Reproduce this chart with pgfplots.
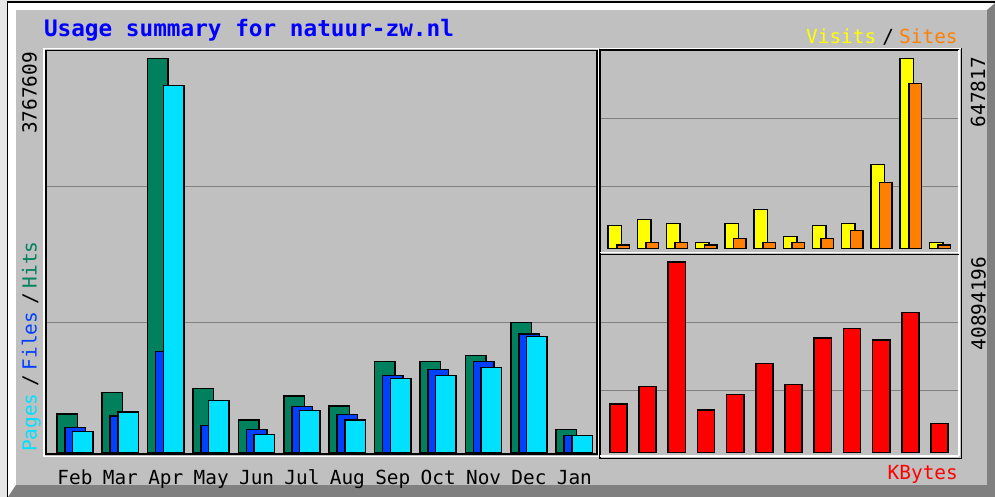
\documentclass[border=0pt]{standalone}
\usepackage{pgfplots}
\pgfplotsset{compat=1.18}
\usepackage{fontspec}
\setmonofont{DejaVu Sans Mono}
\definecolor{bggray}{HTML}{C0C0C0}
\definecolor{outerc}{HTML}{E6E6E6}
\definecolor{gridgray}{HTML}{808080}
\definecolor{hitc}{HTML}{00805C}
\definecolor{filec}{HTML}{0040FF}
\definecolor{pagec}{HTML}{00E0FF}
\definecolor{visitc}{HTML}{FFFF00}
\definecolor{sitec}{HTML}{FF8000}
\definecolor{kbc}{HTML}{FF0000}
\definecolor{titlec}{HTML}{0000FF}
\newcommand{\smallf}{\ttfamily\fontsize{19.4}{20}\selectfont}
\newcommand{\titlef}{\ttfamily\bfseries\fontsize{22.7}{24}\selectfont}

\pgfplotstableread{
m hits files pages
0 369693 242641 204430
1 573168 350588 388799
2 3767609 964833 3505878
3 611379 261747 496746
4 312377 223536 171950
5 541644 443250 405039
6 446116 363006 312377
7 873126 739387 706907
8 873126 796704 739387
9 930443 873126 815809
10 1241864 1133917 1108125
11 223536 166219 166219
}\maintable

\pgfplotstableread{
m visits sites kbytes
0 78584 11275 10443325
1 99084 19134 14153172
2 85418 19134 40894196
3 19134 11275 9156673
4 85418 32800 12437636
5 133251 19134 19171115
6 39634 19134 14582056
7 78584 32800 24596497
8 85418 60134 26676585
9 285636 224136 24167613
10 647817 563756 30021880
11 19134 11275 6304595
}\sidetable

\pgfplotsset{
  webal/.style={
    scale only axis,
    axis line style={draw=none},
    tick style={draw=none},
    scaled y ticks=false,
    yticklabels={},
    ymajorgrids,
    grid style={gridgray, line width=1.5pt},
    ybar,
    every axis plot/.append style={draw=black, line width=1.5pt},
  }
}

\begin{document}
\begin{tikzpicture}
\useasboundingbox (0pt,0pt) rectangle (995pt,497pt);
\begin{scope}[x=1pt,y=1pt]
% outer frame
\fill[outerc] (0,0) rectangle (995,497);
\fill[black] (6.5,0) rectangle (995,495.5);
\fill[white] (8,0) rectangle (995,494);
\fill[gridgray] (8,0) -- (995,0) -- (995,494) -- (987,487) -- (987,12) -- (16,12) -- cycle;
\fill[bggray] (16,12) rectangle (987,487);
\end{scope}

% main panel
\begin{axis}[webal,
  at={(45.8pt,42.8pt)}, anchor=south west,
  width=551.2pt, height=403.7pt,
  xmin=-0.467, xmax=11.674,
  ymin=-14329, ymax=3842136,
  ytick={1241864,2541045},
  bar width=20.5pt,
  xtick={0,...,11},
  xticklabels={Feb,Mar,Apr,May,Jun,Jul,Aug,Sep,Oct,Nov,Dec,Jan},
  xticklabel style={font=\smallf, text=black, anchor=base, xshift=8pt, yshift=-26.5pt},
]
\addplot[fill=hitc, bar shift=0pt] table[x=m, y=hits] {\maintable};
\addplot[fill=filec, bar shift=8pt] table[x=m, y=files] {\maintable};
\addplot[fill=pagec, bar shift=15.7pt] table[x=m, y=pages] {\maintable};
\end{axis}

% visits / sites panel
\begin{axis}[webal,
  at={(600.2pt,244.5pt)}, anchor=south west,
  width=358.8pt, height=202.2pt,
  xmin=-0.5, xmax=11.788,
  ymin=-14350, ymax=676507,
  ytick={210469,444171},
  xtick=\empty,
]
\addplot[fill=visitc, bar width=13.5pt, bar shift=0pt] table[x=m, y=visits] {\sidetable};
\addplot[fill=sitec, bar width=12.5pt, bar shift=8.2pt] table[x=m, y=sites] {\sidetable};
\end{axis}

% kbytes panel
\begin{axis}[webal,
  at={(600.2pt,41pt)}, anchor=south west,
  width=358.8pt, height=201.4pt,
  xmin=-0.5, xmax=11.788,
  ymin=-707659, ymax=42480960,
  ytick={13295404,27877460},
  xtick=\empty,
]
\addplot[fill=kbc, bar width=17.2pt, bar shift=3.6pt] table[x=m, y=kbytes] {\sidetable};
\end{axis}

\begin{scope}[x=1pt,y=1pt]
% panel frames
\draw[white, line width=1.6pt] (44,448.5) rectangle (598.5,40.5);
\draw[black, line width=1.6pt] (45.8,446.5) rectangle (597,42.8);
\draw[white, line width=1.6pt] (600,448.5) -- (961,448.5);
\draw[black, line width=1.6pt] (600.2,446.7) -- (959,446.7);
\draw[black, line width=1.6pt] (600.2,447.5) -- (600.2,38.3);
\draw[white, line width=1.6pt] (959,446.7) -- (959,41);
\draw[black, line width=1.6pt] (961.3,449) -- (961.3,37.5);
\draw[white, line width=1.6pt] (600.2,244.5) -- (959,244.5);
\draw[black, line width=1.6pt] (600.2,242.4) -- (959,242.4);
\draw[white, line width=1.6pt] (600.2,41) -- (959,41);
\draw[black, line width=1.6pt] (600.2,38.3) -- (961.3,38.3);

% texts
\node[anchor=base west, inner sep=0, text=titlec, font=\titlef] at (43.8,460.5) {Usage summary for natuur-zw.nl};

\node[rotate=90, anchor=base east, inner sep=0, font=\smallf, text=black] at (36.7,445) {3767609};
\node[rotate=90, anchor=base west, inner sep=0, font=\smallf, text=pagec] at (36.7,45) {Pages};
\node[rotate=90, anchor=base, inner sep=0, font=\smallf, text=black] at (36.7,116) {/};
\node[rotate=90, anchor=base west, inner sep=0, font=\smallf, text=filec] at (36.7,126.5) {Files};
\node[rotate=90, anchor=base, inner sep=0, font=\smallf, text=black] at (36.7,198) {/};
\node[rotate=90, anchor=base west, inner sep=0, font=\smallf, text=hitc] at (36.7,208.5) {Hits};

\node[rotate=90, anchor=base east, inner sep=0, font=\smallf, text=black] at (985,440) {647817};
\node[rotate=90, anchor=base east, inner sep=0, font=\smallf, text=black] at (985.5,240.5) {40894196};

\node[anchor=base west, inner sep=0, font=\smallf, text=visitc] at (806,453.7) {Visits};
\node[anchor=base, inner sep=0, font=\smallf, text=black] at (888.3,453.7) {/};
\node[anchor=base west, inner sep=0, font=\smallf, text=sitec] at (899,453.7) {Sites};
\node[anchor=base west, inner sep=0, font=\smallf, text=kbc] at (887.5,17.5) {KBytes};
\end{scope}
\end{tikzpicture}
\end{document}
